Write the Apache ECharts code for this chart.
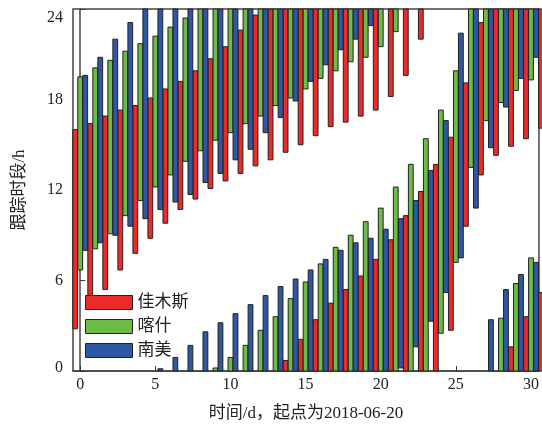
<!DOCTYPE html>
<html>
<head>
<meta charset="utf-8" />
<title>跟踪时段</title>
<script src="https://cdn.jsdelivr.net/npm/echarts@6/dist/echarts.min.js"></script>
<style>
  body { margin: 0; background: #fff; }
  #chart { width: 542px; height: 427px; }
</style>
</head>
<body>
<div id="chart"></div>
<script>
// 天数 0..31，起点 2018-06-20
const days = [0,1,2,3,4,5,6,7,8,9,10,11,12,13,14,15,16,17,18,19,20,21,22,23,24,25,26,27,28,29,30,31];
const stationNames = ['佳木斯', '喀什', '南美'];
const stationColors = ['#ED2A2A', '#6CBD45', '#2E58A6'];
const xTicks = [0, 5, 10, 15, 20, 25, 30];

// 佳木斯：当天开始/结束（到24为止），wrap = 前一天跨零点延续到的时刻
const jmsStart = [2.8,4.1,5.4,6.7,7.8,8.8,9.8,10.7,11.4,12.1,12.6,13.1,13.6,14.0,14.5,15.0,15.6,16.2,16.5,16.9,17.3,18.2,19.6,22.0,null,2.7,9.6,13.0,14.3,14.9,15.4,16.1];
const jmsEnd   = [16.0,16.4,16.9,17.3,17.6,18.1,18.7,19.2,19.9,20.7,21.5,22.6,23.6,24,24,24,24,24,24,24,24,24,24,24,null,15.5,19.1,23.1,24,24,24,24];
const jmsWrap  = [null,null,null,null,null,null,null,null,null,null,null,null,null,null,0.7,2.1,3.4,4.5,5.4,6.3,7.4,8.7,10.3,11.9,13.7,null,null,null,null,1.6,3.6,5.2];

// 喀什
const ksStart = [6.7,8.1,9.1,10.3,11.3,12.2,13.0,13.9,14.6,15.3,15.8,16.4,16.9,17.6,18.1,18.7,19.4,19.9,20.5,20.8,21.5,22.5,null,0,2.5,7.2,13.5,16.6,17.8,18.6,19.3,null];
const ksEnd   = [19.5,20.1,20.6,21.2,21.7,22.2,22.8,23.4,24,24,24,24,24,24,24,24,24,24,24,24,24,24,null,15.4,17.3,19.9,24,24,24,24,24,null];
const ksWrap  = [null,null,null,null,null,null,null,null,null,0.2,0.9,1.7,2.7,3.6,4.8,5.9,7.1,8.2,9.0,9.9,10.8,12.2,13.7,null,null,null,null,null,3.5,5.8,7.5,null];

// 南美
const nmStart = [8.0,8.5,9.0,9.6,10.1,10.7,11.2,11.7,12.5,13.1,14.0,14.7,15.8,16.8,17.9,19.2,20.3,21.3,22.0,22.9,null,0.2,1.6,3.3,5.2,7.5,10.8,14.8,17.5,19.4,20.8,null];
const nmEnd   = [19.6,20.8,22.0,23.1,24,24,24,24,24,24,24,24,24,24,24,24,24,24,24,24,null,10.1,11.3,13.3,16.6,22.4,24,24,24,24,24,null];
const nmWrap  = [null,null,null,null,null,0.15,0.9,1.7,2.6,3.2,3.8,4.4,5.0,5.6,6.1,6.7,7.4,8.0,8.5,8.8,9.4,null,null,null,null,null,null,3.4,5.4,6.4,7.2,null];

const offsets = [-0.333, 0, 0.333];
const barWidth = 0.32;

function buildSegments(starts, ends, wraps) {
  const out = [];
  days.forEach((d, i) => {
    if (starts[i] != null) out.push([d, starts[i], ends[i]]);
    if (wraps[i] != null) out.push([d, 0, wraps[i]]);
  });
  return out;
}

const segs = [
  buildSegments(jmsStart, jmsEnd, jmsWrap),
  buildSegments(ksStart, ksEnd, ksWrap),
  buildSegments(nmStart, nmEnd, nmWrap)
];

function renderBar(params, api) {
  const x = api.value(0) + offsets[params.seriesIndex];
  const top = api.coord([x, api.value(2)]);
  const bot = api.coord([x, api.value(1)]);
  const w = api.size([barWidth, 0])[0];
  return {
    type: 'rect',
    shape: { x: top[0] - w / 2, y: top[1], width: w, height: bot[1] - top[1] },
    style: { fill: api.visual('color'), stroke: '#222', lineWidth: 1 }
  };
}

const font = '"Liberation Serif", "Noto Sans CJK SC", serif';

const chart = echarts.init(document.getElementById('chart'));
chart.setOption({
  animation: false,
  grid: {
    left: 73, top: 9, right: 2, bottom: 51,
    show: true, borderColor: '#444', borderWidth: 1.5
  },
  legend: {
    orient: 'vertical',
    left: 80, top: 289,
    icon: 'rect',
    itemWidth: 47, itemHeight: 14, itemGap: 7,
    data: stationNames,
    itemStyle: { borderColor: '#222', borderWidth: 1 },
    textStyle: { fontFamily: font, fontSize: 17, color: '#222', lineHeight: 14 }
  },
  xAxis: {
    type: 'value',
    min: -0.48, max: 30.53,
    name: '时间/d，起点为2018-06-20',
    nameLocation: 'middle', nameGap: 34,
    nameTextStyle: { fontFamily: font, fontSize: 17, color: '#222' },
    axisLine: { lineStyle: { color: '#444', width: 1.5 } },
    axisTick: { inside: true, length: 5, customValues: xTicks, lineStyle: { color: '#333' } },
    axisLabel: { customValues: xTicks, fontFamily: font, fontSize: 16, color: '#222', margin: 6 },
    splitLine: { show: false }
  },
  yAxis: {
    type: 'value',
    min: 0, max: 24, interval: 6,
    name: '跟踪时段/h',
    nameLocation: 'middle', nameGap: 45, nameRotate: 90,
    nameTextStyle: { fontFamily: font, fontSize: 17, color: '#222' },
    axisLine: { lineStyle: { color: '#444', width: 1.5 } },
    axisTick: { inside: true, length: 5, lineStyle: { color: '#333' } },
    axisLabel: {
      fontFamily: font, fontSize: 16, color: '#222', margin: 10,
      formatter: v => v === 24 ? '{t|24}' : (v === 0 ? '{b|0}' : String(v)),
      rich: {
        t: { fontFamily: font, fontSize: 16, color: '#222', padding: [18, 0, 0, 0] },
        b: { fontFamily: font, fontSize: 16, color: '#222', padding: [0, 0, 6, 0] }
      }
    },
    splitLine: { show: false }
  },
  series: stationNames.map((name, k) => ({
    name: name,
    type: 'custom',
    renderItem: renderBar,
    itemStyle: { color: stationColors[k], borderColor: '#222', borderWidth: 1 },
    encode: { x: 0, y: [1, 2] },
    data: segs[k]
  }))
});
</script>
</body>
</html>
